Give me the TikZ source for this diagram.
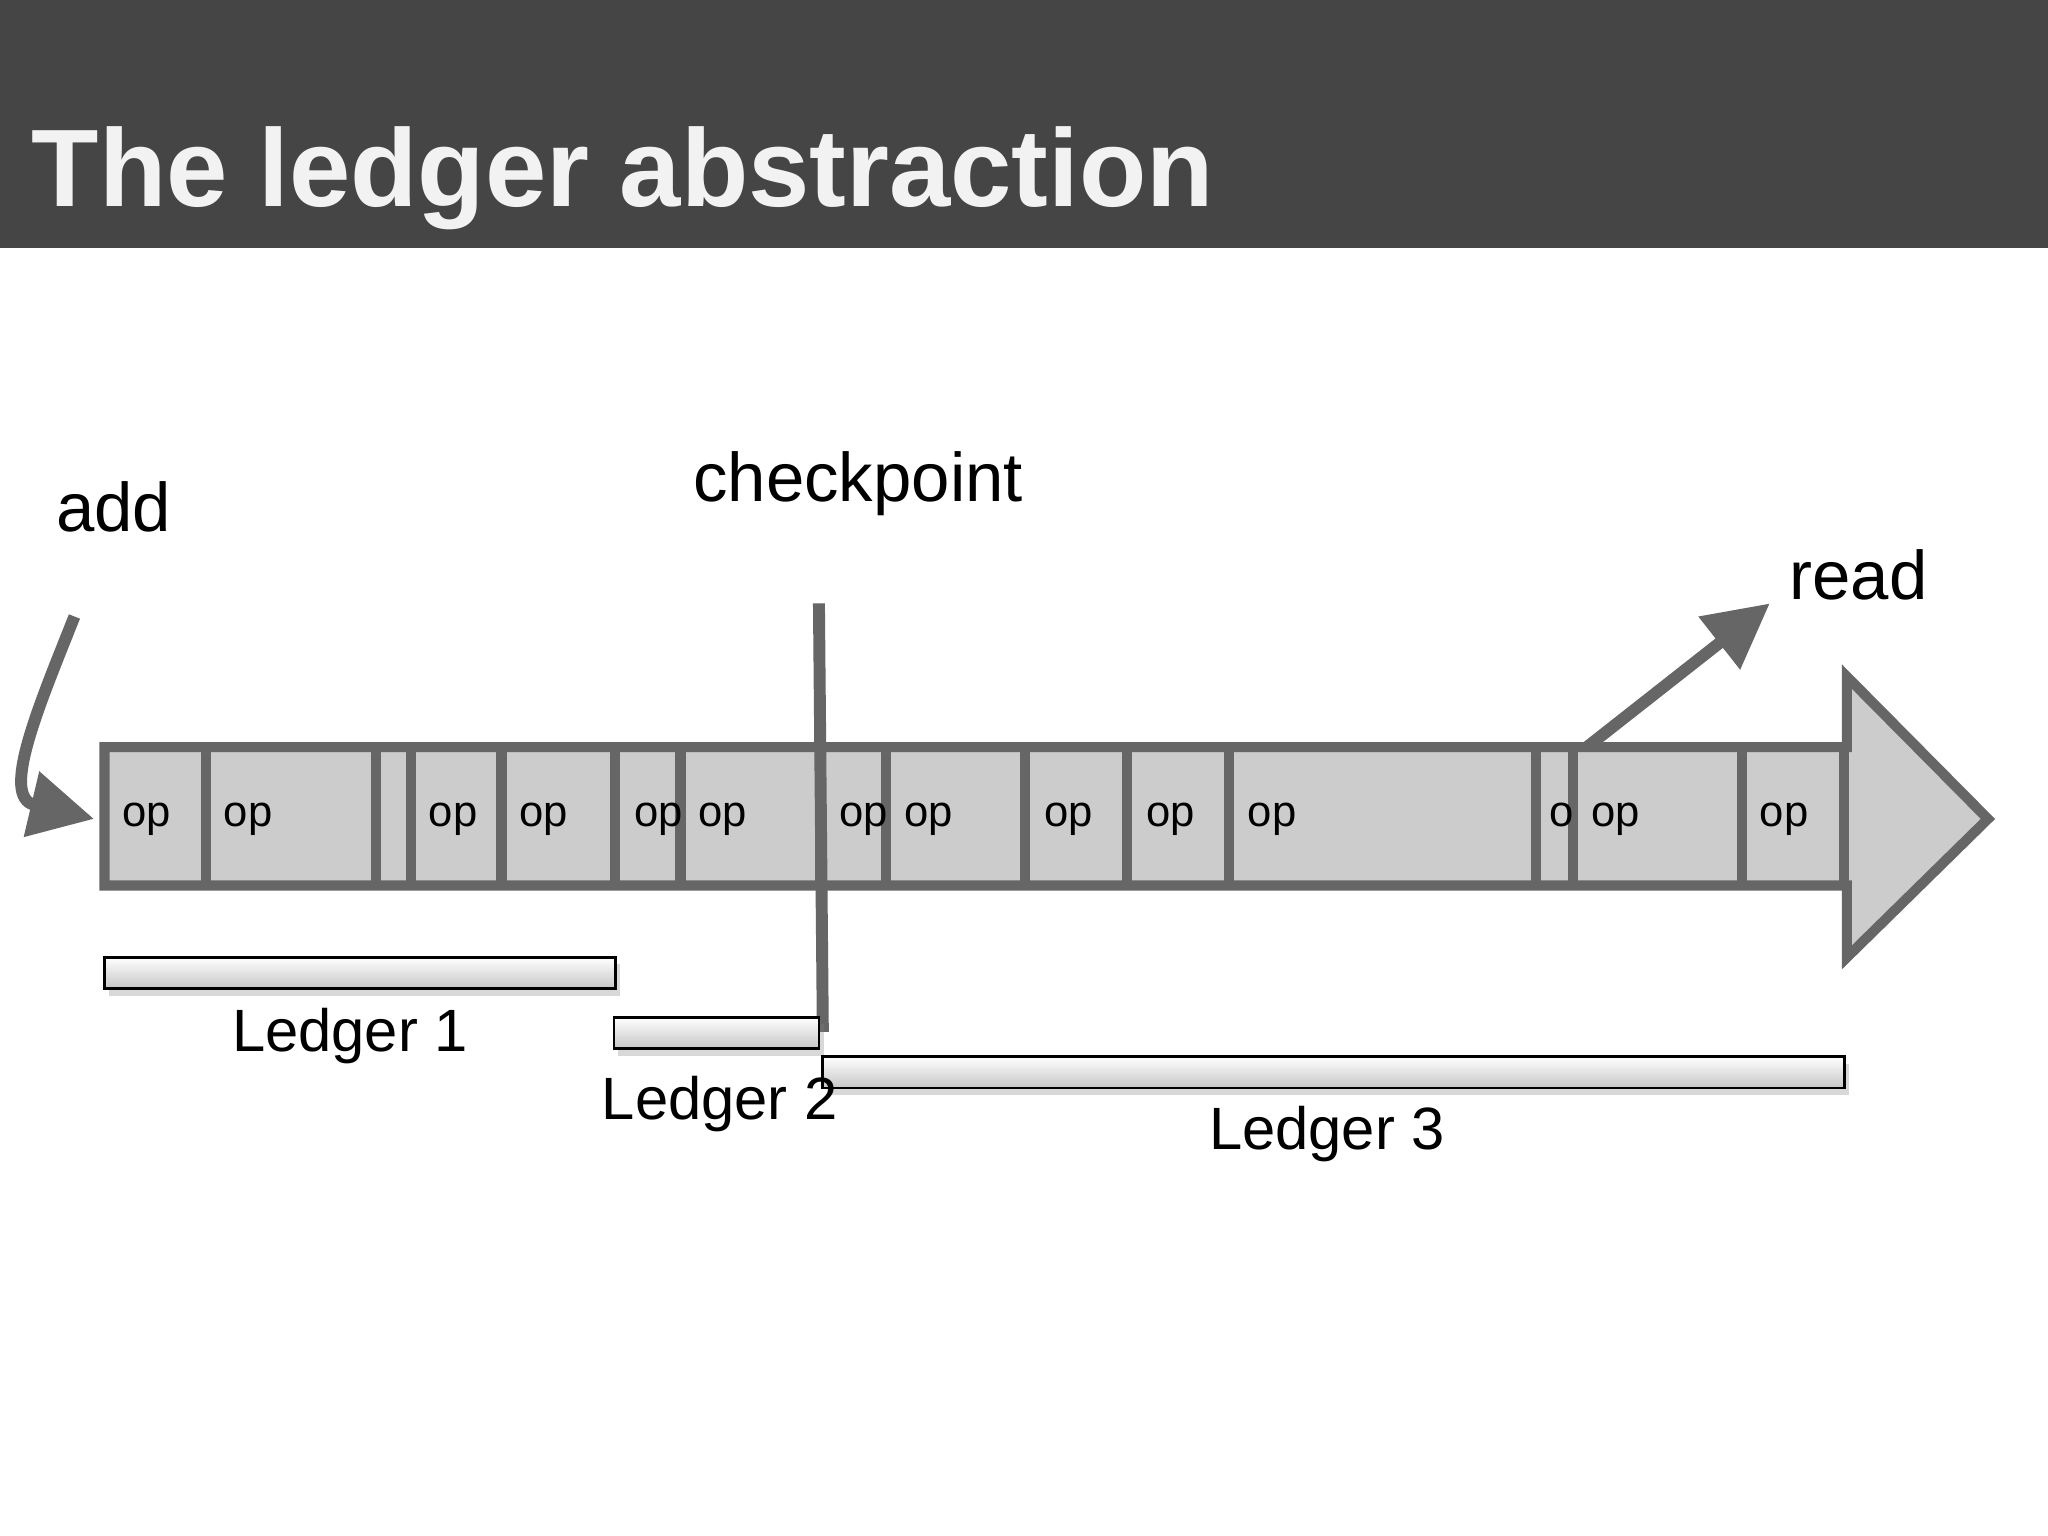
\documentclass[tikz,border=0pt]{standalone}
\usepackage{fontspec}
\setmainfont{Liberation Sans}
\usetikzlibrary{arrows.meta,shadows}
\begin{document}
\begin{tikzpicture}[x=0.01cm,y=-0.01cm,
  cell/.style={draw=gray!80!black,line width=2.2pt,fill=gray!40},
  op/.style={font=\fontsize{9.5}{11}\selectfont},
  big/.style={font=\fontsize{15}{18}\selectfont},
  led/.style={font=\fontsize{13}{16}\selectfont},
  bar/.style={draw=black,line width=0.6pt,top color=white,bottom color=gray!45,drop shadow={shadow xshift=1pt,shadow yshift=-1.5pt,opacity=0.3}},
  darr/.style={draw=gray!80!black,line width=2.6pt,-{Triangle[length=14pt,width=14pt]}}]
\useasboundingbox (0,0) rectangle (1568,1176);
\fill[white] (0,0) rectangle (1568,1176);
\fill[black!73] (0,0) rectangle (1568,190);
\node[anchor=base west,text=black!5,font=\bfseries\fontsize{24}{28}\selectfont] (title) at (12,158) {The ledger abstraction};
% big arrow
\draw[cell] (80,572) -- (1414,572) -- (1414,518) -- (1522,627) -- (1414,733) -- (1414,678) -- (80,678) -- cycle;
\foreach \x in {158,288,315,384,471,521,628,678,785,863,941,1176,1204,1334,1412}
  \draw[gray!80!black,line width=2.2pt] (\x,572) -- (\x,678);
\foreach \x/\n in {112/a,190/b,347/c,416/d,504/e,553/f,661/g,711/h,818/i,896/j,974/k,1237/m,1366/n}
  \node[op] (op\n) at (\x,627) {op};
\begin{scope}
\clip (1178,574) rectangle (1203,676);
\node[op] (opl) at (1205,627) {op};
\end{scope}
% checkpoint
\node[big] (cp) at (657,370) {checkpoint};
\coordinate (cpt) at (627,462);
\coordinate (cpb) at (630,790);
\draw[gray!80!black,line width=2.6pt] (cpt) -- (cpb);
% ledgers
\draw[bar] (80,733) rectangle (471,757);
\draw[bar] (470,779) rectangle (627,803);
\draw[bar] (630,809) rectangle (1412,833);
\node[led] (l1) at (268,793) {Ledger 1};
\node[led] (l2) at (551,845) {Ledger 2};
\node[led] (l3) at (1016,868) {Ledger 3};
% add / read
\node[big] (add) at (87,388) {add};
\node[big] (read) at (1423,440) {read};
\coordinate (a0) at (57,472);
\coordinate (a1) at (72,627);
\draw[darr] (a0) .. controls (30,540) and (0,610) .. (a1);
\coordinate (r0) at (1215,572);
\coordinate (r1) at (1355,462);
\draw[darr] (r0) -- (r1);
\end{tikzpicture}
\end{document}
